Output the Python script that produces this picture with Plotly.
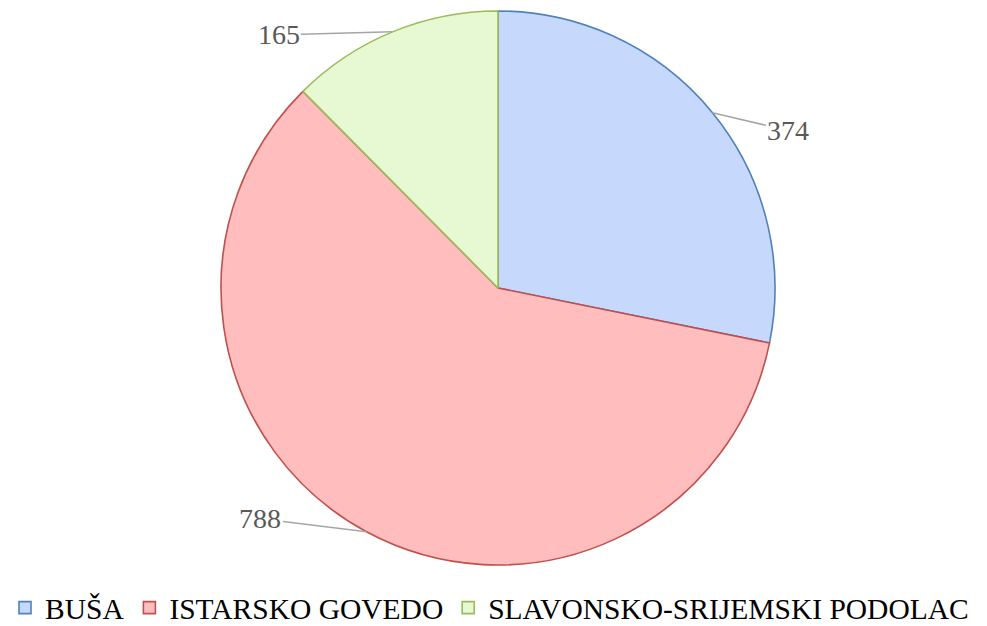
import math
import plotly.graph_objects as go

categories = ["BUŠA", "ISTARSKO GOVEDO", "SLAVONSKO-SRIJEMSKI PODOLAC"]
values = [374, 788, 165]
fill_colors = ["#c6d9fc", "#ffbdbd", "#e7f9d2"]
line_colors = ["#4f81bd", "#c0504d", "#9bbb59"]
# label offsets (pixels) from slice-edge point to label
label_offsets = [(76, 18), (-106, -13), (-114, 3)]

W, H = 987, 626
ML, MR, MT, MB = 9, 0, 11, 61
PW, PH = W - ML - MR, H - MT - MB
R = min(PW, PH) / 2

fig = go.Figure()
fig.add_trace(go.Pie(
    labels=categories,
    values=values,
    sort=False,
    direction="clockwise",
    rotation=0,
    textinfo="none",
    hoverinfo="label+value",
    marker=dict(colors=fill_colors, line=dict(color=line_colors, width=1.6)),
    domain=dict(x=[0, 1], y=[0, 1]),
))

total = sum(values)
cum = 0
annotations = []
for v, (ax, ay) in zip(values, label_offsets):
    mid = (cum + v / 2) / total * 2 * math.pi
    cum += v
    px = 0.5 + R * math.sin(mid) / PW
    py = 0.5 + R * math.cos(mid) / PH
    annotations.append(dict(
        x=px, y=py, xref="paper", yref="paper",
        text=str(v), showarrow=True, arrowhead=0, arrowwidth=1.5,
        arrowcolor="#a6a6a6", ax=ax, ay=ay,
        font=dict(family="Liberation Serif", size=28, color="#595959"),
    ))

fig.update_layout(
    width=W, height=H,
    margin=dict(l=ML, r=MR, t=MT, b=MB, autoexpand=False),
    paper_bgcolor="white", plot_bgcolor="white",
    annotations=annotations,
    showlegend=True,
    legend=dict(
        orientation="h", x=-4 / PW, xanchor="left", y=-43 / PH, yanchor="middle",
        font=dict(family="Liberation Serif", size=29.5, color="#000000"),
        itemwidth=30, traceorder="normal",
    ),
)

fig.write_html("out.html")
